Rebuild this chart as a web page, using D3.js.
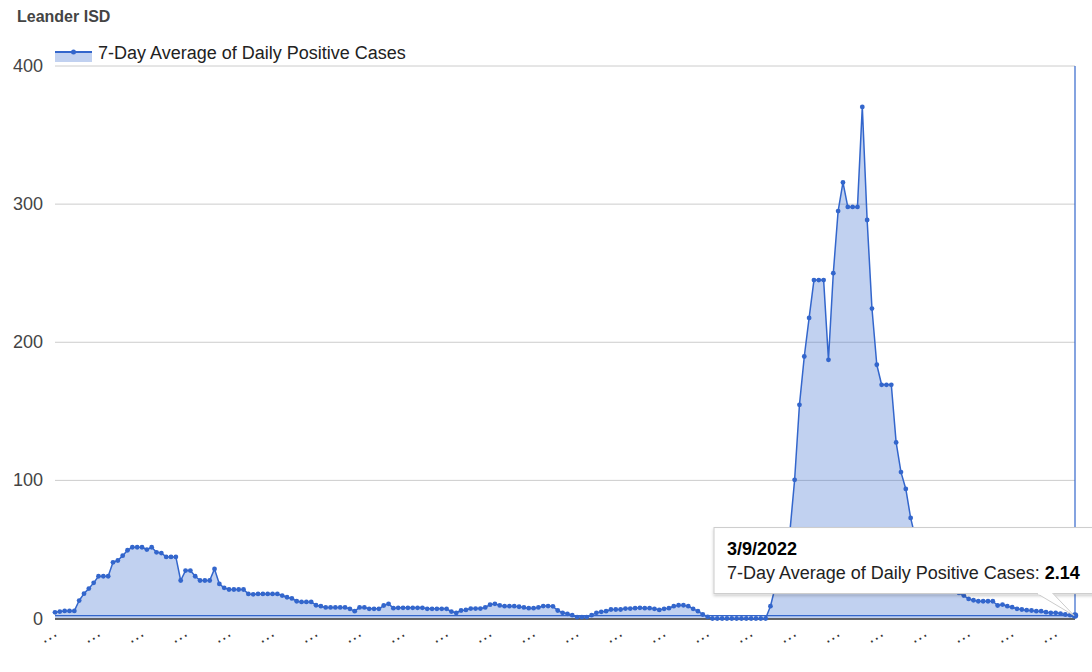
<!DOCTYPE html>
<html>
<head>
<meta charset="utf-8">
<script src="https://cdn.jsdelivr.net/npm/d3@7"></script>
<style>
  body { margin: 0; background: #fff; }
  text { font-family: Arial, "Liberation Sans", sans-serif; }
</style>
</head>
<body>
<svg id="chart"></svg>
<script>
const chartTitle = "Leander ISD";
const seriesName = "7-Day Average of Daily Positive Cases";
const firstDay = "2021-08-10";
const yTicks = [0, 100, 200, 300, 400];
const labelEvery = 9;

// 7-day average, one value per day
const cases = [
  4.5, 5, 5.5, 5.5, 5.5, 13, 18, 21.7, 25.8, 30.6,
  30.6, 30.6, 40.7, 42, 45.5, 49.4, 51.6, 51.6, 51.6, 49.9,
  51.6, 47.9, 47.4, 44.6, 44.6, 44.6, 27.5, 34.7, 34.7, 30.6,
  27.5, 27.5, 27.5, 35.9, 25, 22.2, 21, 21, 21, 21,
  17.8, 17.5, 17.8, 17.8, 17.8, 17.8, 17.8, 16.6, 15.4, 14.5,
  12.5, 12, 12, 12, 9.6, 8.9, 8, 8, 8, 8,
  8, 7, 5.3, 8, 8, 7, 7, 7, 9.4, 10.6,
  7.5, 7.7, 7.7, 7.7, 7.7, 7.7, 7.7, 7, 7, 7,
  7, 7, 5, 4, 5.8, 6.2, 7.2, 7.2, 7.2, 8,
  10, 10.6, 9.5, 8.9, 8.9, 8.9, 8.5, 8, 7.5, 7.5,
  8, 9, 9, 8.8, 5.8, 4.1, 3.4, 2.4, 1, 1,
  1, 2.4, 4.1, 4.8, 5.3, 6.5, 6.5, 6.5, 7.2, 7.2,
  7.5, 7.7, 7.5, 7.5, 7, 6.2, 7, 7.5, 8.9, 9.6,
  9.6, 8.9, 7, 5.3, 2.9, 1.2, 0, 0, 0, 0,
  0, 0, 0, 0, 0, 0, 0, 0, 8.9, 23,
  38, 50, 62, 100.4, 154.7, 189.7, 217.6, 245, 245, 245,
  187.3, 250, 295, 315.7, 298, 298, 298, 370.4, 288.5, 224.4,
  183.7, 169.2, 169.2, 169.2, 127.5, 106, 93.8, 72.8, 58, 52,
  46, 41, 37, 33, 29, 25, 21, 18.5, 16.6, 14.2,
  13.2, 12.5, 12.5, 12.5, 12.5, 9.4, 10.1, 8.9, 8.2, 7,
  6.5, 6, 5.8, 5.3, 5.3, 4.6, 4.1, 4.1, 3.6, 2.9,
  2.4, 2.14
];

const color = "#3366cc";
const width = 1092, height = 672;
const plot = {left: 55, right: 1075, top: 66, bottom: 618.5};

const days = d3.timeDay.range(d3.timeParse("%Y-%m-%d")(firstDay), new Date(2030, 0, 1)).slice(0, cases.length);
const fmtDate = d => `${d.getMonth() + 1}/${d.getDate()}/${d.getFullYear()}`;
const data = cases.map((v, i) => ({i: i, date: days[i], value: v}));

const svg = d3.select("#chart").attr("width", width).attr("height", height);

const xScale = d3.scalePoint().domain(data.map(d => d.i)).range([plot.left, plot.right]);
const yScale = d3.scaleLinear().domain([0, 400]).range([plot.bottom, plot.top]);

// title
svg.append("text")
    .attr("x", 17).attr("y", 22)
    .attr("font-size", 16).attr("font-weight", "bold")
    .attr("fill", "#444")
    .text(chartTitle);

// legend
const legend = svg.append("g").attr("transform", "translate(55,52)");
legend.append("rect").attr("width", 37).attr("height", 10)
    .attr("fill", color).attr("fill-opacity", 0.3);
legend.append("line").attr("x1", 0).attr("x2", 37)
    .attr("stroke", color).attr("stroke-width", 2);
legend.append("circle").attr("cx", 18.5).attr("r", 2.5).attr("fill", color);
legend.append("text").attr("x", 43).attr("y", 7)
    .attr("font-size", 18).attr("fill", "#222")
    .text(seriesName);

// gridlines + y labels
svg.append("g").selectAll("line")
    .data(yTicks.filter(t => t > 0))
    .join("line")
    .attr("x1", plot.left).attr("x2", plot.right)
    .attr("y1", d => yScale(d)).attr("y2", d => yScale(d))
    .attr("stroke", "#cccccc").attr("stroke-width", 1);

svg.append("g").selectAll("text")
    .data(yTicks)
    .join("text")
    .attr("x", 43)
    .attr("y", d => yScale(d) + 6)
    .attr("text-anchor", "end")
    .attr("font-size", 18)
    .attr("fill", "#444")
    .text(d => d);

// area + line
const area = d3.area()
    .x(d => xScale(d.i))
    .y0(yScale(0))
    .y1(d => yScale(d.value));
const line = d3.line()
    .x(d => xScale(d.i))
    .y(d => yScale(d.value));

svg.append("path").datum(data)
    .attr("d", area)
    .attr("fill", color).attr("fill-opacity", 0.3);

// baseline
svg.append("line")
    .attr("x1", plot.left).attr("x2", plot.right)
    .attr("y1", yScale(0) + 0.5).attr("y2", yScale(0) + 0.5)
    .attr("stroke", "#333").attr("stroke-width", 1.5);

svg.append("path").datum(data)
    .attr("d", line)
    .attr("fill", "none")
    .attr("stroke", color).attr("stroke-width", 1.5)
    .attr("stroke-linejoin", "round");

svg.append("g").selectAll("circle")
    .data(data)
    .join("circle")
    .attr("cx", d => xScale(d.i))
    .attr("cy", d => yScale(d.value))
    .attr("r", 2.4)
    .attr("fill", color);

// crosshair on focused point
const focus = data[data.length - 1];
const fx = xScale(focus.i), fy = yScale(focus.value);
svg.append("line")
    .attr("x1", fx).attr("x2", fx).attr("y1", plot.top).attr("y2", plot.bottom)
    .attr("stroke", color).attr("stroke-width", 1.2);
svg.append("line")
    .attr("x1", plot.left).attr("x2", plot.right).attr("y1", fy).attr("y2", fy)
    .attr("stroke", color).attr("stroke-width", 1.2);
svg.append("circle").attr("cx", fx).attr("cy", fy).attr("r", 3.2).attr("fill", color);

// x labels (truncated dates)
svg.append("g").selectAll("text")
    .data(data.filter(d => d.i % labelEvery === 0))
    .join("text")
    .attr("transform", d => `translate(${xScale(d.i) + 3.5},635) rotate(-30)`)
    .attr("text-anchor", "end")
    .attr("font-size", 18)
    .attr("fill", "#333")
    .text("\u2026");

// tooltip
const defs = svg.append("defs");
const shadow = defs.append("filter").attr("id", "tipShadow")
    .attr("x", "-10%").attr("y", "-20%").attr("width", "120%").attr("height", "150%");
shadow.append("feDropShadow").attr("dx", 0).attr("dy", 2).attr("stdDeviation", 1.5)
    .attr("flood-color", "#000").attr("flood-opacity", 0.2);

const tip = svg.append("g");
const boxX = fx - 361, boxY = fy - 88, boxH = 66;
tip.append("rect")
    .attr("x", boxX).attr("y", boxY)
    .attr("width", 420).attr("height", boxH)
    .attr("fill", "#fff").attr("stroke", "#cccccc")
    .attr("filter", "url(#tipShadow)");
tip.append("path")
    .attr("d", `M${fx - 38},${boxY + boxH} L${fx - 1},${fy} L${fx - 22},${boxY + boxH}`)
    .attr("fill", "#fff").attr("stroke", "#cccccc");
tip.append("line")
    .attr("x1", fx - 37).attr("x2", fx - 23)
    .attr("y1", boxY + boxH).attr("y2", boxY + boxH)
    .attr("stroke", "#fff").attr("stroke-width", 2);
tip.append("text")
    .attr("x", boxX + 13).attr("y", boxY + 27)
    .attr("font-size", 18).attr("font-weight", "bold").attr("fill", "#000")
    .text(fmtDate(focus.date));
const t2 = tip.append("text")
    .attr("x", boxX + 13).attr("y", boxY + 51)
    .attr("font-size", 18).attr("fill", "#222");
t2.append("tspan").text(seriesName + ": ");
t2.append("tspan").attr("font-weight", "bold").attr("fill", "#000").text(d3.format(".2f")(focus.value));
</script>
</body>
</html>
